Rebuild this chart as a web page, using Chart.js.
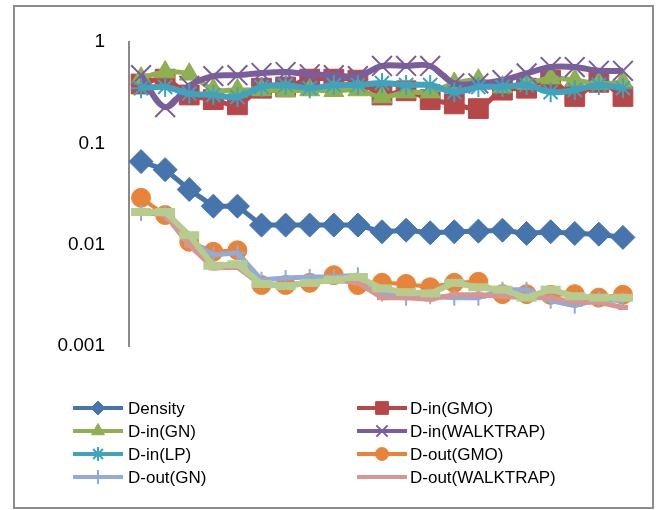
<!DOCTYPE html>
<html>
<head>
<meta charset="utf-8">
<script src="https://cdn.jsdelivr.net/npm/chart.js@4.4.1/dist/chart.umd.min.js"></script>
<style>
  html, body { margin: 0; padding: 0; background: #fff; }
  #wrap { position: relative; width: 667px; height: 510px; }
  #frame { position: absolute; left: 13px; top: 5px; width: 637px; height: 500px; border: 2px solid #8c8c8c; }
  #c { position: absolute; left: 0; top: 0; }
</style>
</head>
<body>
<div id="wrap"><div id="frame"></div><canvas id="c" width="667" height="510"></canvas></div>
<script>
// 21 snapshots, no x labels shown on the original
const steps = ["1","2","3","4","5","6","7","8","9","10","11","12","13","14","15","16","17","18","19","20","21"];
const yTicks = [0.001, 0.01, 0.1, 1];
const yTickLabels = ["0.001", "0.01", "0.1", "1"];

const density  = [0.066, 0.055, 0.035, 0.024, 0.024, 0.0156, 0.0156, 0.0156, 0.0156, 0.0156, 0.0134, 0.0139, 0.0131, 0.0134, 0.0136, 0.0139, 0.0129, 0.0134, 0.0129, 0.0127, 0.0118];
const dInGMO   = [0.385, 0.43, 0.30, 0.27, 0.24, 0.35, 0.36, 0.43, 0.43, 0.42, 0.30, 0.33, 0.27, 0.245, 0.22, 0.335, 0.35, 0.42, 0.29, 0.40, 0.29];
const dInGN    = [0.44, 0.505, 0.48, 0.34, 0.336, 0.336, 0.33, 0.336, 0.33, 0.336, 0.286, 0.32, 0.32, 0.39, 0.42, 0.36, 0.39, 0.44, 0.42, 0.39, 0.40];
const dInWT    = [0.47, 0.228, 0.37, 0.46, 0.47, 0.494, 0.505, 0.48, 0.47, 0.46, 0.58, 0.58, 0.58, 0.39, 0.39, 0.42, 0.49, 0.566, 0.566, 0.52, 0.52];
const dInLP    = [0.35, 0.36, 0.31, 0.30, 0.286, 0.36, 0.376, 0.35, 0.376, 0.376, 0.394, 0.376, 0.376, 0.32, 0.36, 0.36, 0.376, 0.32, 0.336, 0.376, 0.35];
const dOutGMO  = [0.029, 0.0196, 0.0107, 0.0085, 0.0088, 0.0040, 0.0040, 0.0042, 0.0050, 0.0040, 0.0042, 0.0041, 0.0038, 0.0042, 0.0043, 0.00325, 0.00325, 0.0032, 0.00325, 0.0030, 0.0032];
const dOutGN   = [0.0205, 0.0205, 0.0111, 0.0079, 0.0083, 0.0045, 0.0047, 0.0048, 0.0048, 0.0050, 0.0033, 0.0030, 0.0031, 0.0030, 0.0030, 0.0036, 0.0036, 0.0028, 0.0025, 0.0029, 0.0028];
const dOutWT   = [0.021, 0.0196, 0.0099, 0.0059, 0.0060, 0.0040, 0.0040, 0.0042, 0.0045, 0.0042, 0.0030, 0.0030, 0.0029, 0.0032, 0.0032, 0.0031, 0.0030, 0.0030, 0.0027, 0.0027, 0.0024];
const dOutLP   = [0.021, 0.021, 0.0124, 0.0062, 0.0064, 0.0041, 0.0039, 0.0042, 0.0045, 0.0048, 0.0037, 0.0034, 0.0033, 0.0042, 0.0038, 0.0036, 0.0030, 0.0036, 0.0031, 0.0030, 0.0030];

// the 9th series (D-out(LP)) is plotted but has no legend entry in the original
const legendNames = ["Density", "D-in(GMO)", "D-in(GN)", "D-in(WALKTRAP)", "D-in(LP)", "D-out(GMO)", "D-out(GN)", "D-out(WALKTRAP)"];

function line(label, data, color, style, r, pbw, lw, tension) {
  return { label, data, borderColor: color, backgroundColor: color, pointBackgroundColor: color, pointBorderColor: color,
    pointStyle: style, pointRadius: r, pointHoverRadius: r, pointBorderWidth: pbw, borderWidth: lw, tension: tension || 0, fill: false };
}

const datasets = [
  line("Density", density, "#4674ad", "rectRot", 12, 1, 5),
  line("D-in(GMO)", dInGMO, "#b7484a", "rect", 14, 1, 5, 0.35),
  line("D-in(GN)", dInGN, "#8fb050", "triangle", 11.5, 1, 5, 0.35),
  line("D-in(WALKTRAP)", dInWT, "#7a5e9c", "crossRot", 14, 2, 6, 0.35),
  line("D-in(LP)", dInLP, "#3fa3bd", "star", 10, 2, 6, 0.35),
  line("D-out(GMO)", dOutGMO, "#e8843a", "circle", 9.5, 1, 4),
  line("D-out(GN)", dOutGN, "#93abd8", "cross", 8, 2, 5),
  line("D-out(WALKTRAP)", dOutWT, "#d79593", "line", 5, 5, 5),
  line("D-out(LP)", dOutLP, "#b5cc8e", "line", 10, 8, 6)
];
// later series sit on top, like the original
datasets.forEach((d, i) => { d.order = datasets.length - i; });

const legendRadius = [7, 9, 7.5, 8, 7, 6.5, 7, 4];

const gridLegend = {
  id: "gridLegend",
  afterDraw(chart) {
    const ctx = chart.ctx;
    legendNames.forEach((name, i) => {
      const d = chart.data.datasets[i];
      const col = i % 2, row = Math.floor(i / 2);
      const x0 = col ? 357 : 73, y = 408 + row * 23;
      ctx.save();
      ctx.strokeStyle = d.borderColor;
      ctx.fillStyle = d.borderColor;
      ctx.lineWidth = 4;
      ctx.beginPath(); ctx.moveTo(x0, y); ctx.lineTo(x0 + 50, y); ctx.stroke();
      ctx.lineWidth = d.pointStyle === "line" ? 4 : (d.pointBorderWidth > 1 ? 2 : 1);
      Chart.helpers.drawPoint(ctx, { pointStyle: d.pointStyle, radius: legendRadius[i], borderWidth: ctx.lineWidth, rotation: 0 }, x0 + 25, y);
      ctx.fillStyle = "#000";
      ctx.font = '17px "Liberation Sans", Arial, sans-serif';
      ctx.textBaseline = "middle";
      ctx.fillText(name, col ? 410 : 128, y + 1);
      ctx.restore();
    });
  }
};

new Chart(document.getElementById("c"), {
  type: "line",
  data: { labels: steps, datasets },
  options: {
    responsive: false, animation: false, devicePixelRatio: 1,
    layout: { padding: { left: 0, top: 42, right: 32, bottom: 164 } },
    plugins: { legend: { display: false }, tooltip: { enabled: false } },
    scales: {
      x: { display: false, offset: true },
      y: {
        type: "logarithmic", min: 0.001, max: 1,
        afterBuildTicks: s => { s.ticks = yTicks.map(v => ({ value: v })); },
        afterFit: s => { s.width = 129; },
        grid: { display: false, drawTicks: false },
        border: { display: true, color: "#8a8a8a", width: 2 },
        ticks: { padding: 24, color: "#000", font: { family: '"Liberation Sans", Arial', size: 19 },
          callback: (v, i) => yTickLabels[i] }
      }
    }
  },
  plugins: [gridLegend]
});
</script>
</body>
</html>
